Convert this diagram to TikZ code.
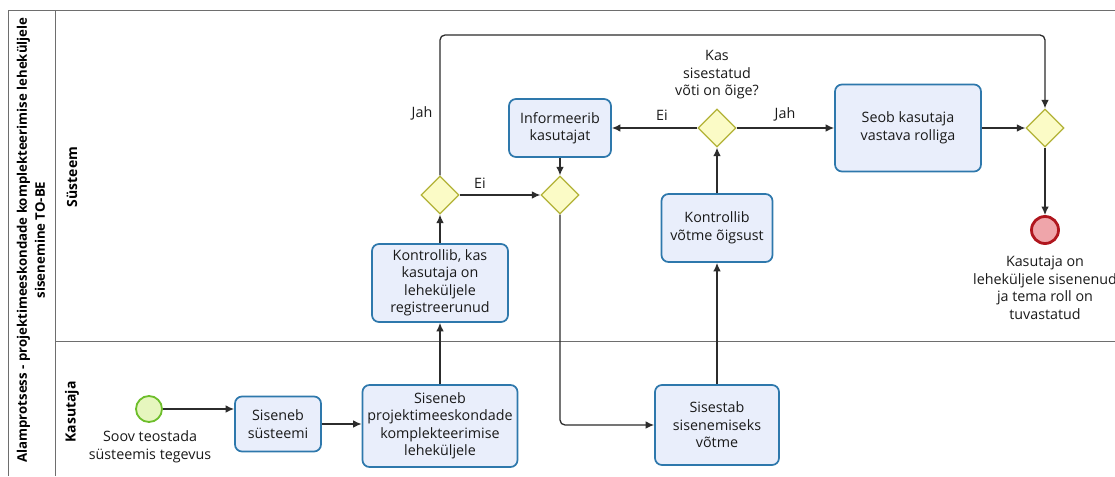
\documentclass[tikz,border=0pt]{standalone}
\usepackage{fontspec}
\setmainfont{Open Sans}
\usetikzlibrary{shapes.geometric,arrows.meta}
\definecolor{poolline}{HTML}{6E6E6E}
\definecolor{taskfill}{HTML}{E9EEFB}
\definecolor{taskline}{HTML}{2E78AC}
\definecolor{gwfill}{HTML}{FBFBC6}
\definecolor{gwline}{HTML}{B2B236}
\definecolor{startfill}{HTML}{E6F6BE}
\definecolor{startline}{HTML}{6DBE2B}
\definecolor{endfill}{HTML}{EFA5AA}
\definecolor{endline}{HTML}{B0161E}
\definecolor{flowline}{HTML}{2C2C2C}
\tikzset{
  txt/.style={font=\fontsize{14.3}{17.5}\selectfont, align=center, text=black!90},
  task/.style={txt, draw=taskline, fill=taskfill, line width=1.7pt, rounded corners=7pt, inner sep=0pt},
  gateway/.style={diamond, draw=gwline, fill=gwfill, line width=1.2pt, minimum width=38pt, minimum height=38pt, inner sep=0pt},
  startev/.style={circle, draw=startline, fill=startfill, line width=1.8pt, minimum size=26pt, inner sep=0pt},
  endev/.style={circle, draw=endline, fill=endfill, line width=2.8pt, minimum size=27pt, inner sep=0pt},
  flow/.style={draw=flowline, line width=1.3pt, -{Latex[length=8.5pt,width=7.5pt]}, rounded corners=5pt},
  lbl/.style={txt, inner sep=0pt},
  poolttl/.style={font=\bfseries\fontsize{13.2}{18}\selectfont, align=center, rotate=90, text=black},
  border/.style={draw=poolline, line width=1pt}
}
\begin{document}
\begin{tikzpicture}[x=1pt,y=-1pt]
\useasboundingbox (0,0) rectangle (1115,476);
\fill[white] (0,0) rectangle (1115,476);

% pool and lanes
\draw[border] (1115,11) -- (8,11) -- (8,476);
\draw[border] (55,11) -- (55,476);
\draw[border] (55,341) -- (1115,341);
\node[poolttl] (pooltitle) at (31,240) {Alamprotsess - projektimeeskondade komplekteerimise leheküljele\\sisenemine TO-BE};
\node[poolttl, font=\bfseries\fontsize{14}{18}\selectfont] (lanesys) at (72,177) {Süsteem};
\node[poolttl, font=\bfseries\fontsize{14}{18}\selectfont] (laneuser) at (72,412) {Kasutaja};

% Kasutaja lane
\node[startev] (start) at (149,409) {};
\node[lbl] (startlbl) at (150,447) {Soov teostada\\süsteemis tegevus};
\node[task, minimum width=86pt, minimum height=55pt] (enter) at (278,424) {Siseneb\\süsteemi};
\node[task, minimum width=155pt, minimum height=82pt] (page) at (440,426) {Siseneb\\projektimeeskondade\\komplekteerimise\\leheküljele};
\node[task, minimum width=124pt, minimum height=80pt] (typekey) at (717,425) {Sisestab\\sisenemiseks\\võtme};

% Süsteem lane
\node[task, minimum width=136pt, minimum height=78pt] (checkreg) at (440,283) {Kontrollib, kas\\kasutaja on\\leheküljele\\registreerunud};
\node[gateway] (g1) at (440,195) {};
\node[gateway] (g2) at (560,195) {};
\node[task, minimum width=102pt, minimum height=58pt] (inform) at (560,128) {Informeerib\\kasutajat};
\node[task, minimum width=111pt, minimum height=68pt] (checkkey) at (717,228) {Kontrollib\\võtme õigsust};
\node[gateway] (g3) at (717,128) {};
\node[lbl] (g3lbl) at (717,75) {Kas\\sisestatud\\võti on õige?};
\node[task, minimum width=146pt, minimum height=87pt] (role) at (908,128) {Seob kasutaja\\vastava rolliga};
\node[gateway] (g4) at (1045,128) {};
\node[endev] (end) at (1045,230) {};
\node[lbl] (endlbl) at (1045,288) {Kasutaja on\\leheküljele sisenenud\\ja tema roll on\\tuvastatud};

\coordinate (topline) at (0,35);

% sequence flows
\draw[flow] (start.east) -- (start.east -| enter.west);
\draw[flow] (enter.east) -- (enter.east -| page.west);
\draw[flow] (page.north) -- (checkreg.south);
\draw[flow] (checkreg.north) -- (g1.south);
\draw[flow] (g1.east) -- (g2.west);
\node[lbl] (ei1) at (480,183) {Ei};
\draw[flow] (g1.north) -- (g1.north |- topline) -- (g4.north |- topline) -- (g4.north);
\node[lbl] (jah1) at (422,113) {Jah};
\draw[flow] (inform.south) -- (g2.north);
\draw[flow] (g2.south) |- (typekey.west);
\draw[flow] (typekey.north) -- (checkkey.south);
\draw[flow] (checkkey.north) -- (g3.south);
\draw[flow] (g3.west) -- (inform.east);
\node[lbl] (ei2) at (662,115) {Ei};
\draw[flow] (g3.east) -- (role.west);
\node[lbl] (jah2) at (785,114) {Jah};
\draw[flow] (role.east) -- (g4.west);
\draw[flow] (g4.south) -- (end.north);
\end{tikzpicture}
\end{document}
